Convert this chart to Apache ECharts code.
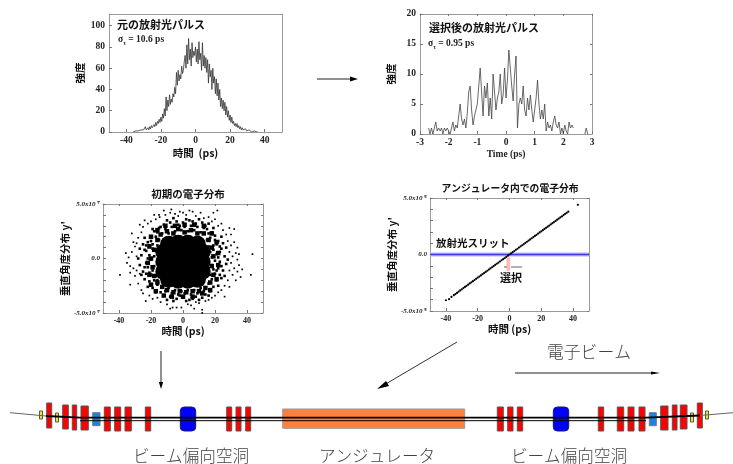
<!DOCTYPE html>
<html><head><meta charset="utf-8">
<style>html,body{margin:0;padding:0;background:#fff}#c{width:733px;height:464px;filter:blur(0.3px)}</style>
<script src="https://cdn.jsdelivr.net/npm/echarts@6/dist/echarts.min.js"></script>
</head><body><div id="c"></div>
<script>
// ---------- data ----------
const sourceTimes = [-36,-35.5,-35,-34.5,-34,-33.5,-33,-32.5,-32,-31.5,-31,-30.5,-30,-29.5,-29,-28.5,-28,-27.5,-27,-26.5,-26,-25.5,-25,-24.5,-24,-23.5,-23,-22.5,-22,-21.5,-21,-20.5,-20,-19.5,-19,-18.5,-18,-17.5,-17,-16.5,-16,-15.5,-15,-14.5,-14,-13.5,-13,-12.5,-12,-11.5,-11,-10.5,-10,-9.5,-9,-8.5,-8,-7.5,-7,-6.5,-6,-5.5,-5,-4.5,-4,-3.5,-3,-2.5,-2,-1.5,-1,-0.5,0,0.5,1,1.5,2,2.5,3,3.5,4,4.5,5,5.5,6,6.5,7,7.5,8,8.5,9,9.5,10,10.5,11,11.5,12,12.5,13,13.5,14,14.5,15,15.5,16,16.5,17,17.5,18,18.5,19,19.5,20,20.5,21,21.5,22,22.5,23,23.5,24,24.5,25,25.5,26,26.5,27,27.5,28,28.5,29,29.5,30,30.5,31,31.5,32,32.5,33,33.5,34,34.5,35,35.5,36];
const sourceIntensity = [0,0,0,1,0,1,1,0,1,2,1,1,2,1,5,2,3,4,2,5,3,6,4,5,7,5,9,6,10,8,12,9,14,10,17,13,22,15,33,20,30,24,35,26,31,28,36,33,42,36,56,44,58,48,54,50,62,55,58,66,72,60,82,64,88,68,78,62,84,70,76,72,80,66,78,64,85,68,74,58,84,62,72,60,70,56,68,46,64,52,58,40,60,46,52,36,50,34,46,30,40,24,32,22,30,20,28,16,24,14,20,11,16,9,14,8,10,6,8,5,8,4,6,3,5,2,4,2,3,1,3,1,2,1,2,1,1,0,1,0,1,0,1,0,0];
const selectedTimes = [-2.7,-2.65,-2.6,-2.55,-2.5,-2.45,-2.4,-2.35,-2.3,-2.25,-2.2,-2.15,-2.1,-2.05,-2,-1.95,-1.9,-1.85,-1.8,-1.75,-1.7,-1.65,-1.6,-1.55,-1.5,-1.45,-1.4,-1.35,-1.3,-1.25,-1.2,-1.15,-1.1,-1.05,-1,-0.95,-0.9,-0.85,-0.8,-0.75,-0.7,-0.65,-0.6,-0.55,-0.5,-0.45,-0.4,-0.35,-0.3,-0.25,-0.2,-0.15,-0.1,-0.05,0,0.05,0.1,0.15,0.2,0.25,0.3,0.35,0.4,0.45,0.5,0.55,0.6,0.65,0.7,0.75,0.8,0.85,0.9,0.95,1,1.05,1.1,1.15,1.2,1.25,1.3,1.35,1.4,1.45,1.5,1.55,1.6,1.65,1.7,1.75,1.8,1.85,1.9,1.95,2,2.05,2.1,2.15,2.2,2.25,2.3,2.35,2.4,2.75,2.8,2.85];
const selectedIntensity = [1,0,1,0,1,2,0.5,1,0.5,1,0,1,0.5,1,0.5,0,0,2,0.5,1.5,1,3,5,2.5,1.5,2.5,1,3.5,7,8,4,1.5,3,4,5,8,11,7,3,8,6,8.5,3,6,2.5,10,7,4,6,7,10,5,6.5,11,6,9,14,11,8,5.5,10,13,1,5,6,5,8,4,3,6,4,6.5,4,2,4,6,9,5,2.5,4,2.5,5,0.5,2,1,1.5,0.5,2,3,1.5,1,2,0,1,0,1.5,0.5,0,2,1,1.5,1,null,0,1,0];
const initialCore = [[-12,-0.3],[-6,-0.3],[0,-0.3],[6,-0.3],[12,-0.3],[-12,0.6],[-6,0.6],[0,0.6],[6,0.6],[12,0.6],[-12,-1.2],[-6,-1.2],[0,-1.2],[6,-1.2],[12,-1.2],[-9,1.3],[-3,1.4],[3,1.4],[9,1.3],[-9,-1.9],[-3,-2],[3,-2],[9,-1.9]];
const initialInner = [[-16,1.7],[-14,2.2],[-10,2.5],[-6,2.3],[-3,2.7],[1,2.4],[5,2.6],[9,2.3],[13,2.3],[16,1.7],[18,1],[19,0.2],[18,-0.7],[19,-1.5],[17,-2.2],[14,-2.7],[10,-3],[6,-3],[2,-3.1],[-2,-3],[-6,-3.1],[-10,-2.9],[-13,-2.6],[-16,-2.2],[-18,-1.6],[-19,-0.8],[-20,0],[-18,0.8],[-21,1.1],[-22,-0.4],[-21,-1.5],[-20,-2.4],[-17,-3],[-12,-3.4],[-7,-3.5],[0,-3.5],[6,-3.5],[12,-3.2],[17,-2.9],[21,-1.9],[22,-0.6],[22,0.5],[21,1.5],[18,2.3],[13,3],[7,3.1],[1,3.1],[-5,3],[-11,3],[-16,2.6],[-20,2]];
const initialMiddle = [[17,1.9],[19,1.2],[21,0.4],[18,-0.6],[20,-1.4],[16,-2.3],[22,1.6],[24,0.9],[23,-0.3],[25,-1.1],[21,-2],[18,2.4],[20,2.1],[26,0.2],[24,-1.8],[19,-2.6],[22,-0.9],[17,-1.5],[16,1.1],[18,0.1],[20,-0.2],[23,0.6],[25,1.4],[27,-0.5],[19,0.8],[21,1.3],[17,-3],[15,2.7],[22,-2.5],[26,-1.6],[27,1],[28,-0.1],[24,2],[16,-0.9],[18,-1.9],[20,1.7],[22,0.1],[24,-0.7],[19,2.8],
[-17,2],[-19,1.3],[-21,0.3],[-18,-0.7],[-20,-1.5],[-16,-2.4],[-22,1.5],[-24,0.8],[-23,-0.4],[-25,-1.2],[-21,-2.1],[-18,2.5],[-20,2],[-26,0.3],[-24,-1.9],[-19,-2.7],[-22,-0.8],[-17,-1.6],[-16,1.2],[-18,0.2],[-20,-0.1],[-23,0.7],[-25,1.3],[-27,-0.6],[-19,0.9],[-21,1.2],[-17,-3.1],[-15,2.8],[-22,-2.6],[-26,-1.5],[-27,0.9],[-28,0],[-24,1.9],[-16,-1],[-18,-2],[-20,1.6],[-22,0],[-24,-0.8],[-19,2.7],
[-13,2.3],[-11,2.7],[-9,2.3],[-7,2.9],[-5,2.5],[-3,3.1],[-1,2.6],[1,2.9],[3,2.5],[5,3],[7,2.6],[9,2.9],[11,2.4],[13,2.8],[-12,3.1],[-8,3.3],[-4,3.4],[0,3.3],[4,3.5],[8,3.2],[12,3.3],[14,3],[-14,2.9],[-10,3.5],[-6,3.7],[-2,3],[2,3.6],[6,3.4],[10,3.6],[16,3.2],
[-13,-2.6],[-11,-3],[-9,-2.7],[-7,-3.2],[-5,-2.9],[-3,-3.3],[-1,-3],[1,-3.2],[3,-2.9],[5,-3.3],[7,-2.9],[9,-3.2],[11,-2.7],[13,-3],[-12,-3.4],[-8,-3.5],[-4,-3.7],[0,-3.6],[4,-3.8],[8,-3.5],[12,-3.6],[14,-3.3],[-14,-3.1],[-10,-3.8],[-6,-3.9],[-2,-3.4],[2,-3.9],[6,-3.7],[10,-3.8],[16,-3.4],
[15,0.4],[16,-0.2],[15,1.7],[15,-1.6],[16,2.3],[-15,0.4],[-16,-0.3],[-15,1.7],[-15,-1.7],[-16,2.4],[-16,-2],[17,0.6],[-17,0.7],[19,-1],[-19,-1.1],[21,-1.1],[-21,-1.3],[23,-1.5],[-23,-1.4],[23,1.1],[-23,1.2]];
const initialOuter = [[43.4,0.4],[-35.7,0.5],[-32,2.3],[-33,-2.4],[-23.3,-3.9],[-39.4,-1.5],[42.4,-1.5],[36,-1.7],[37,-1],[-6.5,-4.5],[-1,-4.5],[12,-4.7],[12,-5],[-7.3,4.5],[4,4.4],[21.5,4.4],[-24,3.5],[-14.6,3.8],[29,2.8],[32,2.7],[34,-0.1],[26,-3.5],[-33,-0.7],[-8,-4.6],[-4,-4.5],
[-30,1.1],[-29,0.2],[-31,-0.9],[-30,-1.6],[-28,1.9],[-28,-2.3],[-26,2.4],[-26,-2.9],[-29,-1.1],[-32,0.6],[-31,1.5],[-27,-1.4],[-29,1.4],[-33,-1.3],[-25,2.9],[-25,-3.2],[-22,3.2],[-21,-3.4],[-20,3.4],[-19,-3.7],[-17,3.6],[-16,-3.6],[-15,4],[-14,-4],[-11,4],[-10,-4.2],[-8,4.2],[-5,4.1],[-3,3.9],[-2,4.3],[0,4.2],[2,4],[3,-4.2],[5,-4.3],[6,4.3],[8,3.9],[8,-4],[11,4.2],[10,-4.1],[13,3.7],[14,-3.9],[16,3.8],[16,-3.8],[18,3.4],[18,-3.6],[20,3.6],[20,-3.4],[22,3],[22,-3.1],[24,3.2],[24,-2.9],[25,2.6],[26,-2.5],[27,2.2],[28,-2],[28,1.6],[29,-1.1],[29,0.6],[30,-0.4],[30,1.2],[31,-1.5],[31,0.2],[32,1.5],[32,-0.9],[33,0.5],[33,-2],[34,-1.2],[35,0.4],[34,1],[30,2.2],[29,-2.6],[35,-0.6],[-34,0.1],[-35,-0.4],[-27,3.1],[19,4.2],[-12,4.4],[7,-4.6],[-18,4]];
const undulatorPoints = [[-40,-4.05],[-38,-3.95],[-36.5,-3.75],[-35,-3.6],[-34,-3.5],[-33,-3.4],[-32,-3.28],[-31,-3.18],[-30,-3.08],[-29,-2.97],[-28,-2.87],[-27,-2.77],[-26,-2.67],[-25,-2.56],[-24,-2.46],[-23,-2.36],[-22,-2.26],[-21,-2.15],[-20,-2.05],[-19,-1.95],[-18,-1.85],[-17,-1.74],[-16,-1.64],[-15,-1.54],[-14,-1.44],[-13,-1.33],[-12,-1.23],[-11,-1.13],[-10,-1.03],[-9,-0.92],[-8,-0.82],[-7,-0.72],[-6,-0.62],[-5,-0.51],[-4,-0.41],[-3,-0.31],[-2,-0.21],[-1,-0.1],[0,0],[1,0.1],[2,0.21],[3,0.31],[4,0.41],[5,0.51],[6,0.62],[7,0.72],[8,0.82],[9,0.92],[10,1.03],[11,1.13],[12,1.23],[13,1.33],[14,1.44],[15,1.54],[16,1.64],[17,1.74],[18,1.85],[19,1.95],[20,2.05],[21,2.15],[22,2.26],[23,2.36],[24,2.46],[25,2.56],[26,2.67],[27,2.77],[28,2.87],[29,2.97],[30,3.08],[31,3.18],[32,3.28],[33,3.38],[34,3.49],[35,3.59],[36,3.69],[37,3.79],[43,4.4]];
const pulseTimeTicks = [-40,-20,0,20,40];
const sourceIntensityTicks = [0,20,40,60,80,100];
const selectedTimeTicks = [-3,-2,-1,0,1,2,3];
const selectedIntensityTicks = [0,5,10,15,20];
const initialAngleLabels = {'5':'5.0x10⁻⁷','0':'0.0','-5':'-5.0x10⁻⁷'};
const undulatorAngleLabels = {'5':'5.0x10⁻⁶','0':'0.0','-5':'-5.0x10⁻⁶'};
const slitLine = [[-50,0],[50,0]];
const selectedWindow = [-1.9,0.4];
// beamline elements along the machine: start, end, top, bottom
const dipoles = [[46.7,51.7,403,428],[62.7,68.3,405,429],[72.3,76.7,405,430],[81,88.3,406,430],[104.3,110.3,407,431],[114.7,120.7,407,431],[125,131.3,407,431],[145.3,150.7,407,431],[226.7,231.7,407,431],[236,241,407,431],[245.7,250.7,407,431],[497.3,503.3,407,431],[507.7,513,407,431],[517.3,522.7,407,431],[598.3,603.7,407,431],[617.3,623.7,407,431],[628,634,407,431],[639,645,407,431],[660.7,668,406,430],[672.3,677,405,430],[680.3,687,405,429],[697.3,702.3,403,428]];
const cavities = [[180.3,195.7,407,431],[553.3,568.7,407,431]];
const monitors = [[92.7,100,412.7,425.7],[649.3,656.3,412.7,425.7]];
const markers = [[39.5,42.5,411,419],[55.5,58.5,413,422],[690.5,693.5,413,422],[705.5,708.5,411,419]];
const undulator = [[282.7,464.7,409,428.3]];
const beamUpper = [[46,416],[80,417.7],[646,417.7],[700,415.5]];
const beamLower = [[80,420.7],[646,420.7]];
const beamTailLeft = [[10,412.7],[46,416]];
const beamTailRight = [[700,415.5],[733,412.7]];

// ---------- chart ----------
const serif = '"Liberation Serif",serif';
const cjk = '"Noto Sans CJK JP",sans-serif';
const grey = '#9a9a9a';
const grids = [
  {left:109,top:14,width:173,height:118},
  {left:420,top:14,width:172,height:120},
  {left:103,top:204,width:160,height:109},
  {left:430,top:198,width:159,height:113},
  {left:0,top:0,width:733,height:464}
];
const tickLabel = {fontFamily:serif,fontWeight:'bold',fontSize:9.5,color:'#222',margin:4};
function xAx(i,min,max,ticks,name,nameFont,gap){
  return {gridIndex:i,type:'value',min,max,position:'bottom',name,nameLocation:'middle',nameGap:gap,nameTextStyle:nameFont,
    axisLine:{show:true,onZero:false,lineStyle:{color:grey}},splitLine:{show:false},
    axisTick:{show:true,inside:true,length:3,customValues:ticks,lineStyle:{color:'#777'}},
    axisLabel:Object.assign({customValues:ticks,showMinLabel:true,showMaxLabel:true},tickLabel)};
}
function yAx(i,min,max,ticks,name,gap,extra){
  return {gridIndex:i,type:'value',min,max,position:'left',name,nameLocation:'middle',nameRotate:90,nameGap:gap,
    nameTextStyle:{fontFamily:cjk,fontWeight:'bold',fontSize:10.5,color:'#111'},
    axisLine:{show:true,onZero:false,lineStyle:{color:grey}},splitLine:{show:false},
    axisTick:{show:true,inside:true,length:3,customValues:ticks,lineStyle:{color:'#777'}},
    axisLabel:Object.assign({customValues:ticks,showMinLabel:true,showMaxLabel:true},tickLabel,extra||{})};
}
function mirrorX(i,min,max,ticks){return {gridIndex:i,type:'value',min,max,position:'top',axisLine:{show:true,onZero:false,lineStyle:{color:grey}},splitLine:{show:false},axisLabel:{show:false},axisTick:{show:true,inside:true,length:2,customValues:ticks,lineStyle:{color:'#777'}}};}
function mirrorY(i,min,max,ticks){return {gridIndex:i,type:'value',min,max,position:'right',axisLine:{show:true,onZero:false,lineStyle:{color:grey}},splitLine:{show:false},axisLabel:{show:false},axisTick:{show:true,inside:true,length:2,customValues:ticks,lineStyle:{color:'#777'}}};}
const cjkName = {fontFamily:cjk,fontWeight:'bold',fontSize:10.5,color:'#111'};
const angleTicks = [-5,-4,-3,-2,-1,0,1,2,3,4,5];
const angleFont = {fontSize:7,fontStyle:'italic',margin:3};
function angleAxis(i,labels,gap){
  const a = yAx(i,-5,5,angleTicks,"垂直角度分布 y'",gap,angleFont);
  a.axisLabel.customValues = [-5,0,5];
  a.axisLabel.formatter = v => labels[String(v)];
  return a;
}
const xAxes = [
  xAx(0,-50,50,pulseTimeTicks,'時間  (ps)',cjkName,16),
  xAx(1,-3,3,selectedTimeTicks,'Time (ps)',{fontFamily:serif,fontWeight:'bold',fontSize:9.5,color:'#222'},16),
  xAx(2,-50,50,pulseTimeTicks,'時間 (ps)',cjkName,11),
  xAx(3,-50,50,pulseTimeTicks,'時間 (ps)',cjkName,13),
  {gridIndex:4,type:'value',min:0,max:733,show:false},
  mirrorX(0,-50,50,[]),mirrorX(1,-3,3,selectedTimeTicks),mirrorX(2,-50,50,pulseTimeTicks),mirrorX(3,-50,50,pulseTimeTicks)
];
xAxes[2].axisLabel.fontSize = 8; xAxes[3].axisLabel.fontSize = 8;
const yAxes = [
  yAx(0,0,111,sourceIntensityTicks,'強度',24),
  yAx(1,0,20,selectedIntensityTicks,'強度',24),
  angleAxis(2,initialAngleLabels,16),
  angleAxis(3,undulatorAngleLabels,10),
  {gridIndex:4,type:'value',min:0,max:464,inverse:true,show:false},
  mirrorY(0,0,111,[]),mirrorY(1,0,20,[5,10,15]),mirrorY(2,-5,5,angleTicks),mirrorY(3,-5,5,[-5,0,5])
];
const zip = (a,b) => a.map((v,i)=>[v,b[i]]);
function dots(x,y,data,size,symbol){return {type:'scatter',xAxisIndex:x,yAxisIndex:y,data,symbol:symbol||'circle',symbolSize:size,itemStyle:{color:'#000',opacity:1},silent:true,animation:false};}
function blocks(data,fill,border,radius){
  return {type:'custom',xAxisIndex:4,yAxisIndex:4,data,silent:true,animation:false,clip:false,
    encode:{x:[0,1],y:[2,3]},
    renderItem:(p,api)=>{
      const a = api.coord([api.value(0),api.value(2)]), b = api.coord([api.value(1),api.value(3)]);
      return {type:'rect',shape:{x:a[0],y:a[1],width:b[0]-a[0],height:b[1]-a[1],r:radius||0},
        style:{fill,stroke:border,lineWidth:1}};
    }};
}
function beam(data,w,color){return {type:'line',xAxisIndex:4,yAxisIndex:4,data,showSymbol:false,silent:true,animation:false,lineStyle:{color,width:w}};}
const series = [
  {type:'line',xAxisIndex:0,yAxisIndex:0,data:zip(sourceTimes,sourceIntensity),showSymbol:false,silent:true,animation:false,lineStyle:{color:'#333',width:0.8}},
  {type:'line',xAxisIndex:1,yAxisIndex:1,data:zip(selectedTimes,selectedIntensity),showSymbol:false,connectNulls:false,silent:true,animation:false,lineStyle:{color:'#444',width:0.8}},
  dots(2,2,initialCore,17),
  dots(2,2,initialInner,4.5,'rect'),
  dots(2,2,initialMiddle,2.6,'rect'),
  dots(2,2,initialOuter,1.7,'rect'),
  {type:'line',xAxisIndex:3,yAxisIndex:3,data:slitLine,showSymbol:false,silent:true,animation:false,z:1,lineStyle:{color:'#b9b9f5',width:4}},
  {type:'line',xAxisIndex:3,yAxisIndex:3,data:slitLine,showSymbol:false,silent:true,animation:false,z:2,lineStyle:{color:'#3c3ce6',width:1.6},
    markArea:{silent:true,itemStyle:{color:'#ffb9b9',opacity:1},data:[[{xAxis:selectedWindow[0],yAxis:-0.25},{xAxis:selectedWindow[1],yAxis:-1.45}]]}},
  Object.assign(dots(3,3,undulatorPoints,2.2),{z:3}),
  blocks(undulator,'#ff7f3f','#9a9a9a'),
  beam(beamUpper,1.8,'#000'),
  beam(beamLower,1,'#000'),
  beam(beamTailLeft,1,'#666'),
  beam(beamTailRight,1,'#666'),
  blocks(dipoles,'#ff0000','#555'),
  blocks(cavities,'#0000ff','#1a1a66',4),
  blocks(monitors,'#1f7fe8','#777'),
  blocks(markers,'#f0e820','#555')
];
series.slice(9).forEach(s=>s.z=4);
const T = (x,y,text,font,color,extra) => ({type:'text',x,y,silent:true,z:10,style:Object.assign({text,font,fill:color||'#111',textAlign:'center',textVerticalAlign:'middle'},extra||{})});
const line = (x1,y1,x2,y2,w,color) => ({type:'line',silent:true,z:10,shape:{x1,y1,x2,y2},style:{stroke:color||'#222',lineWidth:w||1}});
const head = (pts) => ({type:'polygon',silent:true,z:10,shape:{points:pts},style:{fill:'#000'}});
const sigma = v => ({text:'{a|σ}{b|τ}{a| = '+v+' ps}',rich:{a:{font:'bold 9.5px '+serif,fill:'#222'},b:{font:'bold 6px '+serif,fill:'#222',padding:[6,0,0,0]}},textAlign:'left'});
const graphic = [
  T(161,25,'元の放射光パルス','bold 11px '+cjk),
  {type:'text',x:118,y:40,silent:true,z:10,style:Object.assign(sigma('10.6'),{textVerticalAlign:'middle'})},
  T(484,28,'選択後の放射光パルス','bold 11px '+cjk),
  {type:'text',x:428,y:44,silent:true,z:10,style:Object.assign(sigma('0.95'),{textVerticalAlign:'middle'})},
  T(188,194,'初期の電子分布','bold 10.5px '+cjk),
  T(510,188,'アンジュレータ内での電子分布','bold 9.8px '+cjk),
  T(436,243,'放射光スリット','bold 10.5px '+cjk,'#111',{textAlign:'left'}),
  T(511,278,'選択','bold 11px '+cjk),
  line(511,267,522,267,0.7), line(504,267,507,267,0.7),
  line(317,79,352,79,1), head([[350,76.5],[358,79],[350,81.5]]),
  line(161,351,161,383,1), head([[158.8,382],[161,389],[163.2,382]]),
  line(457,342,384,385,1,'#333'), head([[386,381],[377,389],[389,386]]),
  line(515,373,655,373,1), head([[651,371.5],[660,373],[651,374.5]]),
  T(589,352,'電子ビーム','300 16.8px '+cjk,'#444'),
  T(191,456,'ビーム偏向空洞','300 16.6px '+cjk,'#444'),
  T(377,456,'アンジュレータ','300 16.6px '+cjk,'#444'),
  T(569,456,'ビーム偏向空洞','300 16.6px '+cjk,'#444')
];
const chart = echarts.init(document.getElementById('c'),null,{renderer:'canvas'});
chart.setOption({animation:false,backgroundColor:'#fff',grid:grids,xAxis:xAxes,yAxis:yAxes,series,graphic:{elements:graphic},tooltip:{show:false},legend:{show:false}});
</script></body></html>
